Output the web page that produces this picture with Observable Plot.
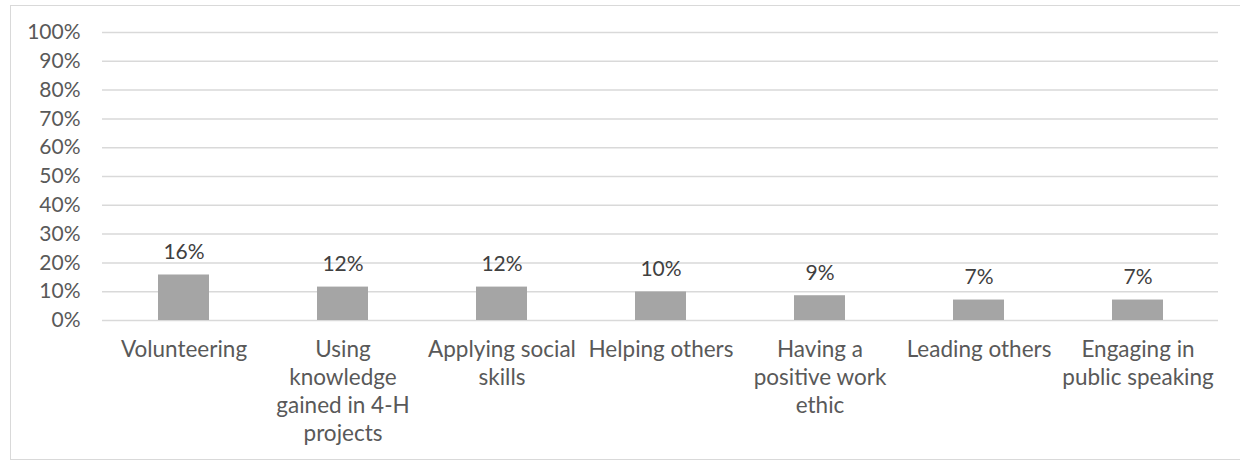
<!DOCTYPE html>
<html>
<head>
<meta charset="utf-8">
<script src="https://cdn.jsdelivr.net/npm/d3@7"></script>
<script src="https://cdn.jsdelivr.net/npm/@observablehq/plot@0.6"></script>
<style>
  html, body { margin: 0; padding: 0; background: #fff; }
  #wrap { position: relative; width: 1240px; height: 462px; overflow: hidden; }
  #frame { position: absolute; left: 10px; top: 5px; width: 1240px; height: 455px; border: 1.5px solid #d9d9d9; box-sizing: border-box; }
  #chart { position: absolute; left: 0; top: 0; }
</style>
</head>
<body>
<div id="wrap"><div id="frame"></div><div id="chart"></div></div>
<script>
const categories = [
  "Volunteering",
  "Using knowledge gained in 4-H projects",
  "Applying social skills",
  "Helping others",
  "Having a positive work ethic",
  "Leading others",
  "Engaging in public speaking"
];
const tickLabels = [
  "Volunteering",
  "Using\nknowledge\ngained in 4-H\nprojects",
  "Applying social\nskills",
  "Helping others",
  "Having a\npositive work\nethic",
  "Leading others",
  "Engaging in\npublic speaking"
];
const values = [0.158, 0.116, 0.116, 0.099, 0.086, 0.071, 0.071];
const yTicks = [0, 0.1, 0.2, 0.3, 0.4, 0.5, 0.6, 0.7, 0.8, 0.9, 1.0];

const data = categories.map((c, i) => ({category: c, value: values[i], label: tickLabels[i]}));
const labelOf = new Map(data.map(d => [d.category, d.label]));
const fmt = d3.format(".0%");

const chart = Plot.plot({
  width: 1240,
  height: 462,
  marginLeft: 102,
  marginRight: 22,
  marginTop: 32,
  marginBottom: 142,
  style: {fontFamily: "Lato, sans-serif", fontSize: "21px", background: "transparent"},
  x: {domain: categories, paddingInner: 0.68, paddingOuter: 0.34, label: null},
  y: {domain: [0, 1], label: null},
  marks: [
    Plot.gridY(yTicks, {stroke: "#d9d9d9", strokeOpacity: 1, strokeWidth: 1.5}),
    Plot.axisY(yTicks, {tickSize: 0, tickPadding: 22, tickFormat: fmt, fill: "#595959", label: null}),
    Plot.barY(data, {x: "category", y: "value", fill: "#a5a5a5"}),
    Plot.text(data, {x: "category", y: "value", text: d => fmt(d.value), dy: -16, lineAnchor: "bottom", fill: "#404040"}),
    Plot.axisX({tickSize: 0, tickPadding: 17, tickFormat: d => labelOf.get(d), fontSize: 22.5, lineHeight: 1.24, fill: "#595959", label: null})
  ]
});
document.getElementById("chart").append(chart);
</script>
</body>
</html>
